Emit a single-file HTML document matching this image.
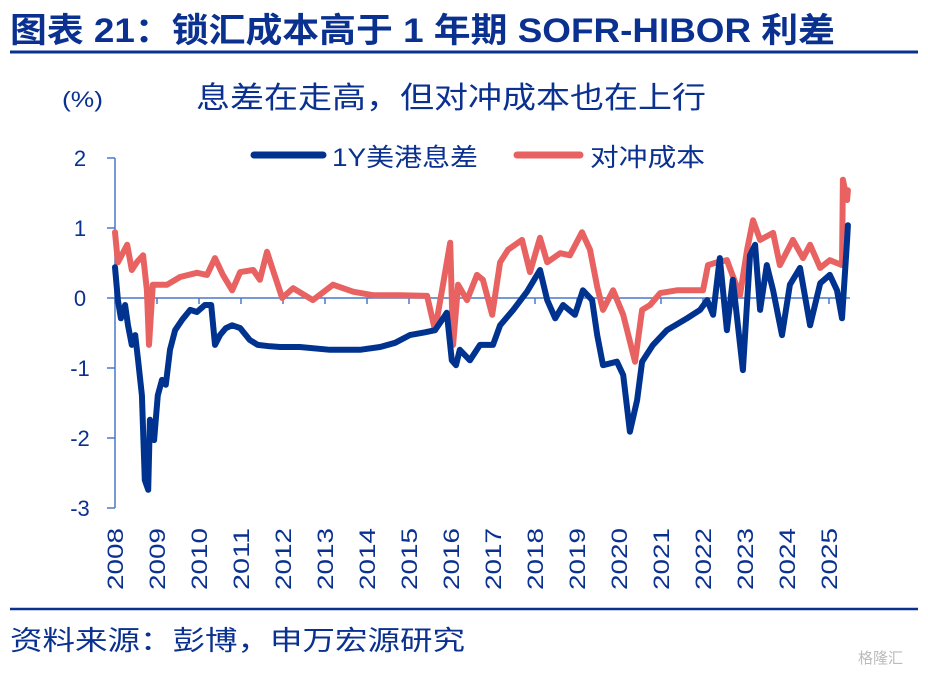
<!DOCTYPE html>
<html><head><meta charset="utf-8"><style>
body{margin:0;background:#fff;}
svg text{font-family:"Liberation Sans","Noto Sans CJK SC",sans-serif;}
</style></head><body>
<svg width="928" height="672" viewBox="0 0 928 672">
<text x="10" y="42" font-size="34" font-weight="bold" fill="#0a3190" textLength="825" lengthAdjust="spacingAndGlyphs">图表 21：锁汇成本高于 1 年期 SOFR-HIBOR 利差</text>
<line x1="10" y1="52" x2="918" y2="52" stroke="#0a3190" stroke-width="3"/>
<text x="62" y="107" font-size="22" fill="#0a3190" textLength="41" lengthAdjust="spacingAndGlyphs">(%)</text>
<text x="196" y="108" font-size="30" fill="#0a3190" textLength="510" lengthAdjust="spacingAndGlyphs">息差在走高，但对冲成本也在上行</text>
<g>
<line x1="254" y1="155" x2="323" y2="155" stroke="#00338f" stroke-width="7" stroke-linecap="round"/>
<text x="332" y="166" font-size="25" fill="#0a3190" textLength="146" lengthAdjust="spacingAndGlyphs">1Y美港息差</text>
<line x1="517" y1="155" x2="580" y2="155" stroke="#e86262" stroke-width="7" stroke-linecap="round"/>
<text x="590" y="166" font-size="25" fill="#0a3190" textLength="115" lengthAdjust="spacingAndGlyphs">对冲成本</text>
</g>
<g id="axes"></g>
<g id="plot"></g>
<line x1="10" y1="609" x2="918" y2="609" stroke="#0a3190" stroke-width="2.5"/>
<text x="10" y="650" font-size="27" fill="#0a3190" textLength="455" lengthAdjust="spacingAndGlyphs">资料来源：彭博，申万宏源研究</text>
<text x="858" y="663" font-size="15" fill="#bbb">格隆汇</text>
</svg>
<script>
const yTicks=[2,1,0,-1,-2,-3];
const yearLabels=[2008,2009,2010,2011,2012,2013,2014,2015,2016,2017,2018,2019,2020,2021,2022,2023,2024,2025];
const spreadYears=[2008.00,2008.07,2008.14,2008.24,2008.31,2008.40,2008.48,2008.55,2008.64,2008.71,2008.79,2008.83,2008.93,2009.02,2009.12,2009.21,2009.31,2009.43,2009.60,2009.79,2009.95,2010.14,2010.29,2010.38,2010.50,2010.64,2010.79,2010.98,2011.21,2011.40,2011.69,2011.93,2012.40,2013.12,2013.83,2014.31,2014.67,2015.02,2015.38,2015.62,2015.79,2015.90,2016.02,2016.12,2016.21,2016.45,2016.69,2017.00,2017.17,2017.48,2017.81,2018.12,2018.29,2018.48,2018.67,2018.95,2019.14,2019.36,2019.48,2019.62,2019.95,2020.10,2020.26,2020.43,2020.55,2020.81,2021.14,2021.62,2021.93,2022.10,2022.24,2022.40,2022.57,2022.71,2022.95,2023.12,2023.24,2023.36,2023.52,2023.67,2023.88,2024.07,2024.31,2024.55,2024.79,2025.02,2025.19,2025.31,2025.43,2025.45];
const spreadValues=[0.44,-0.03,-0.29,-0.10,-0.39,-0.67,-0.53,-0.89,-1.39,-2.60,-2.74,-1.74,-2.03,-1.39,-1.17,-1.24,-0.74,-0.46,-0.31,-0.17,-0.20,-0.10,-0.10,-0.67,-0.53,-0.43,-0.39,-0.43,-0.60,-0.67,-0.69,-0.70,-0.70,-0.74,-0.74,-0.70,-0.64,-0.53,-0.49,-0.46,-0.31,-0.21,-0.89,-0.96,-0.74,-0.89,-0.67,-0.67,-0.39,-0.17,0.09,0.40,-0.03,-0.29,-0.10,-0.24,0.11,-0.03,-0.53,-0.96,-0.91,-1.10,-1.91,-1.46,-0.91,-0.67,-0.46,-0.29,-0.17,-0.03,-0.24,0.57,-0.46,0.26,-1.03,0.61,0.76,-0.17,0.47,0.11,-0.53,0.19,0.43,-0.39,0.21,0.33,0.11,-0.29,0.83,1.04];
const hedgeYears=[2008.00,2008.07,2008.29,2008.40,2008.52,2008.67,2008.76,2008.81,2008.90,2009.24,2009.55,2009.95,2010.19,2010.38,2010.57,2010.79,2010.98,2011.29,2011.45,2011.62,2011.76,2011.98,2012.24,2012.71,2013.19,2013.67,2014.14,2014.79,2015.43,2015.62,2015.81,2015.98,2016.05,2016.17,2016.38,2016.62,2016.76,2016.98,2017.17,2017.36,2017.69,2017.88,2018.12,2018.29,2018.60,2018.83,2019.12,2019.31,2019.48,2019.62,2019.86,2020.10,2020.38,2020.55,2020.74,2020.98,2021.38,2021.76,2022.00,2022.12,2022.33,2022.57,2022.88,2023.05,2023.19,2023.36,2023.67,2023.83,2024.14,2024.38,2024.55,2024.79,2025.02,2025.31,2025.33,2025.43,2025.45];
const hedgeValues=[0.94,0.51,0.76,0.40,0.51,0.61,0.11,-0.67,0.19,0.19,0.30,0.36,0.33,0.57,0.33,0.11,0.37,0.40,0.26,0.66,0.40,0.00,0.14,-0.03,0.19,0.09,0.04,0.04,0.03,-0.46,0.19,0.79,-0.67,0.19,-0.03,0.33,0.26,-0.24,0.51,0.69,0.83,0.37,0.86,0.51,0.64,0.61,0.94,0.69,0.16,-0.17,0.11,-0.24,-0.91,-0.17,-0.10,0.07,0.11,0.11,0.11,0.47,0.51,0.54,0.04,0.69,1.11,0.83,0.93,0.47,0.83,0.57,0.76,0.43,0.54,0.47,1.69,1.40,1.54];

const NS='http://www.w3.org/2000/svg';
const xS=yr=>115+(yr-2008)*42;
const yS=v=>298-v*70;
const axes=document.getElementById('axes'), plot=document.getElementById('plot');
function mk(tag,attrs,parent){const e=document.createElementNS(NS,tag);for(const k in attrs)e.setAttribute(k,attrs[k]);parent.appendChild(e);return e;}
let ax=mk('line',{x1:115,y1:yS(2),x2:115,y2:yS(-3),stroke:'#4a78c8','stroke-width':1.5},axes);


let zl=mk('line',{x1:115,y1:yS(0),x2:850,y2:yS(0),stroke:'#4a78c8','stroke-width':1.5},axes);


yTicks.forEach(t=>{
  let tk=mk('line',{x1:107,y1:yS(t),x2:115,y2:yS(t),stroke:'#4a78c8','stroke-width':1.5},axes);
  
  
  let tx=mk('text',{x:80,y:yS(t)+8,'font-size':22,fill:'#0a3190','text-anchor':'middle'},axes);
  tx.textContent=t;
  
  
});
yearLabels.forEach(y=>{
  let tk=mk('line',{x1:xS(y),y1:yS(0),x2:xS(y),y2:yS(0)+6,stroke:'#4a78c8','stroke-width':1.5},axes);
  
  
  const bx=xS(y)+8, by=590;
  let tx=mk('text',{x:bx,y:by,'font-size':22,fill:'#0a3190','text-anchor':'start',textLength:62,lengthAdjust:'spacingAndGlyphs',transform:`rotate(-90 ${bx} ${by})`},axes);
  tx.textContent=y;
  
  
});
function line(xs,vs,color,name){
  const d=xs.map((x,i)=>(i?'L':'M')+xS(x).toFixed(1)+','+yS(vs[i]).toFixed(1)).join('');
  const p=mk('path',{d:d,fill:'none',stroke:color,'stroke-width':6,'stroke-linejoin':'round','stroke-linecap':'round'},plot);
  
  
}
line(hedgeYears,hedgeValues,'#e86262','hedge-cost-line');
line(spreadYears,spreadValues,'#00338f','spread-line');
</script>
</body></html>
